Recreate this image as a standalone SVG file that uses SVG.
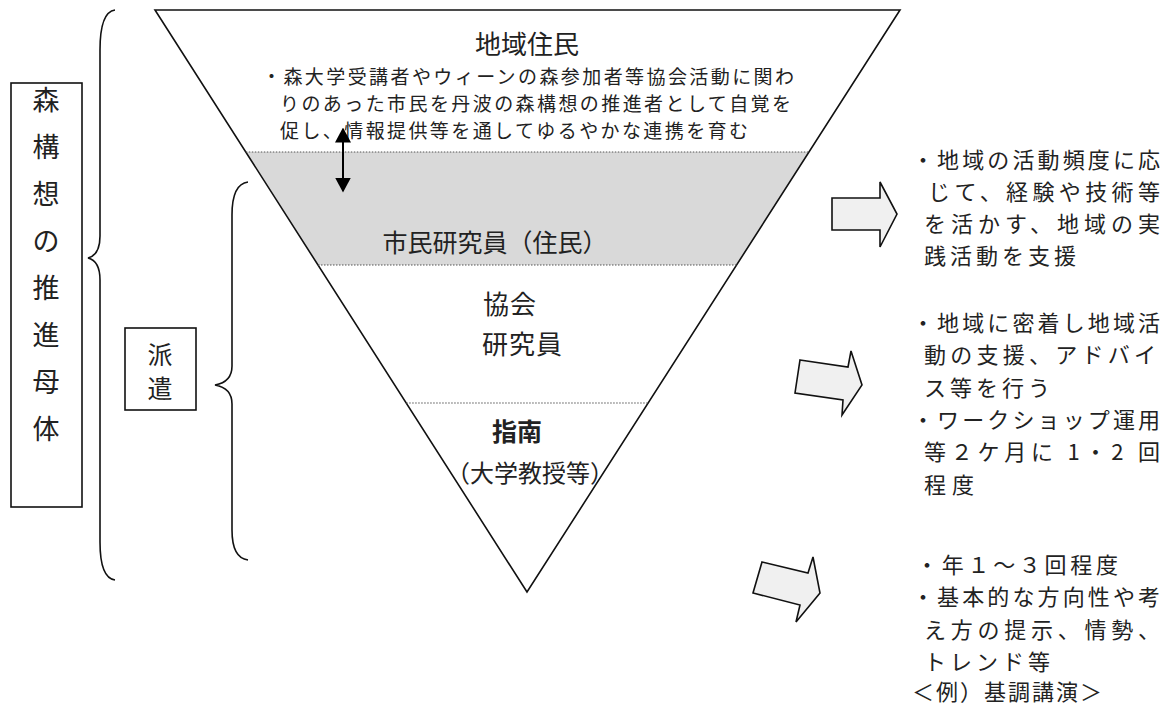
<svg xmlns="http://www.w3.org/2000/svg" width="1164" height="713" viewBox="0 0 1164 713">
<defs>
<style>
text{font-family:"Noto Sans CJK JP","Noto Sans",sans-serif;fill:#222;}
.ln{fill:none;stroke:#111;stroke-width:1.6;}
.dot{stroke:#555;stroke-width:1.2;stroke-dasharray:1.5 1.5;}
.blk{fill:#f0f0f0;stroke:#111;stroke-width:1.6;stroke-linejoin:miter;}
.box{fill:#fff;stroke:#111;stroke-width:1.6;}
.m{font-size:19px;}
.r{font-size:22px;}
</style>
<marker id="ah" viewBox="0 0 10 10" refX="9" refY="5" markerWidth="15" markerHeight="16" orient="auto-start-reverse" markerUnits="userSpaceOnUse" preserveAspectRatio="none">
<path d="M0,0 L10,5 L0,10 z" fill="#000"/>
</marker>
</defs>
<rect width="1164" height="713" fill="#fff"/>

<g id="pyramid">
<polygon points="245.8,152 809,152 736.6,265 318,265" fill="#d9d9d9"/>
<polygon points="155,10 900,10 527,592" class="ln"/>
<line x1="245.8" y1="152" x2="809" y2="152" class="dot"/>
<line x1="318" y1="265" x2="736.6" y2="265" class="dot"/>
<line x1="406.2" y1="403" x2="648.1" y2="403" class="dot"/>
</g>

<g id="residents">
<text x="527" y="54" font-size="26" text-anchor="middle">地域住民</text>
<text class="m" x="262" y="84" textLength="532" lengthAdjust="spacing">・森大学受講者やウィーンの森参加者等協会活動に関わ</text>
<text class="m" x="280" y="111" textLength="511" lengthAdjust="spacing">りのあった市民を丹波の森構想の推進者として自覚を</text>
<text class="m" x="280" y="138" textLength="468" lengthAdjust="spacing">促し、情報提供等を通してゆるやかな連携を育む</text>
</g>

<g id="citizen-researchers">
<text x="495" y="252" font-size="25" text-anchor="middle">市民研究員（住民）</text>
</g>

<g id="association-researchers">
<text x="483" y="314" font-size="26" letter-spacing="1">協会</text>
<text x="482" y="354" font-size="26" letter-spacing="1">研究員</text>
</g>

<g id="guidance">
<text x="517" y="441" font-size="25" font-weight="bold" text-anchor="middle">指南</text>
<text x="530" y="482" font-size="24" text-anchor="middle">（大学教授等）</text>
</g>

<g id="promoter">
<rect x="11" y="83" width="71" height="424" class="box"/>
<g font-size="27" text-anchor="middle">
<text x="46" y="110">森</text>
<text x="46" y="157">構</text>
<text x="46" y="204">想</text>
<text x="46" y="251">の</text>
<text x="46" y="298">推</text>
<text x="46" y="345">進</text>
<text x="46" y="392">母</text>
<text x="46" y="439">体</text>
</g>
</g>

<g id="dispatch">
<rect x="125" y="328" width="71" height="82" class="box"/>
<g font-size="25" text-anchor="middle">
<text x="160" y="364">派</text>
<text x="160" y="398">遣</text>
</g>
</g>

<g id="connectors">
<path class="ln" d="M115,10 Q100,12 100,50 L100,236 Q100,255 88,258 Q100,261 100,280 L100,542 Q100,578 115,580"/>
<path class="ln" d="M248,182 Q232,184 232,215 L232,366 Q232,382 215,385 Q232,388 232,404 L232,530 Q232,558 248,560"/>
<line x1="343" y1="129" x2="343" y2="191" stroke="#000" stroke-width="2" marker-start="url(#ah)" marker-end="url(#ah)"/>
<polygon class="blk" points="832,198 880,198 880,182 897,214 880,247 880,230 832,230"/>
<polygon class="blk" points="800,360 848,367 851,351 862,385 842,415 843,400 795,393"/>
<polygon class="blk" points="762,562 808,573 813,557 820,593 796,622 800,605 753,593"/>
</g>

<g id="note-citizen">
<text class="r" x="912" y="168" textLength="248" lengthAdjust="spacing">・地域の活動頻度に応</text>
<text class="r" x="928" y="200" textLength="232" lengthAdjust="spacing">じて、経験や技術等</text>
<text class="r" x="924" y="232" textLength="236" lengthAdjust="spacing">を活かす、地域の実</text>
<text class="r" x="924" y="264" textLength="152" lengthAdjust="spacing">践活動を支援</text>
</g>

<g id="note-association">
<text class="r" x="912" y="331" textLength="248" lengthAdjust="spacing">・地域に密着し地域活</text>
<text class="r" x="924" y="363" textLength="232" lengthAdjust="spacing">動の支援、アドバイ</text>
<text class="r" x="924" y="396" textLength="126" lengthAdjust="spacing">ス等を行う</text>
<text class="r" x="912" y="428" textLength="248" lengthAdjust="spacing">・ワークショップ運用</text>
<text class="r" x="924" y="460" textLength="236" lengthAdjust="spacing">等２ケ月に 1・2 回</text>
<text class="r" x="924" y="493" textLength="50" lengthAdjust="spacing">程度</text>
</g>

<g id="note-guidance">
<text class="r" x="916" y="573" textLength="202" lengthAdjust="spacing">・年１～３回程度</text>
<text class="r" x="912" y="605" textLength="248" lengthAdjust="spacing">・基本的な方向性や考</text>
<text class="r" x="924" y="638" textLength="236" lengthAdjust="spacing">え方の提示、情勢、</text>
<text class="r" x="924" y="670" textLength="126" lengthAdjust="spacing">トレンド等</text>
<text class="r" x="912" y="700" textLength="190" lengthAdjust="spacing">＜例）基調講演＞</text>
</g>
</svg>
